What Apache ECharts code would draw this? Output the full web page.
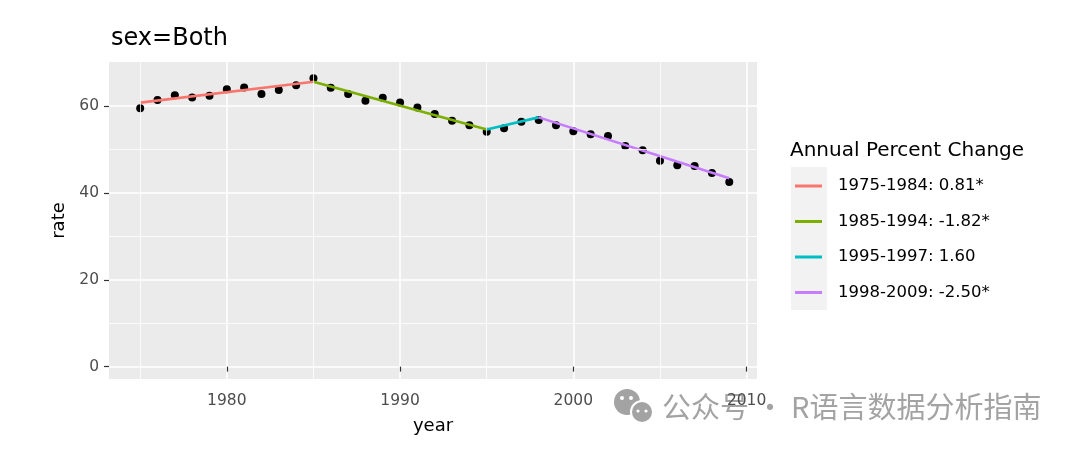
<!DOCTYPE html>
<html><head><meta charset="utf-8">
<script src="https://cdn.jsdelivr.net/npm/echarts@6/dist/echarts.min.js"></script>
<style>html,body{margin:0;padding:0;background:#fff}#c{width:1080px;height:452px}</style>
</head><body><div id="c"></div>
<script>
const years = [1975,1976,1977,1978,1979,1980,1981,1982,1983,1984,1985,1986,1987,1988,1989,1990,1991,1992,1993,1994,1995,1996,1997,1998,1999,2000,2001,2002,2003,2004,2005,2006,2007,2008,2009];
const rate = [59.5,61.4,62.5,62.0,62.4,63.9,64.3,62.8,63.7,64.8,66.4,64.2,62.8,61.2,61.9,60.8,59.7,58.2,56.6,55.6,54.1,54.9,56.4,56.8,55.6,54.2,53.5,53.1,50.8,49.8,47.4,46.4,46.2,44.6,42.5];
const segNames = ['1975-1984: 0.81*','1985-1994: -1.82*','1995-1997: 1.60','1998-2009: -2.50*'];
const segYears = [[1975,1985],[1985,1995],[1995,1998],[1998,2009]];
const segRate = [[60.8,65.6],[65.6,54.6],[54.6,57.4],[57.4,43.4]];
const segColors = ['#F8766D','#7CAE00','#00BFC4','#C77CFF'];
const xTicks = [1980,1990,2000,2010];
const xMinor = [1975,1985,1995,2005];
const yTicks = [0,20,40,60];
const yMinor = [10,30,50];

const FONT = 'DejaVu Sans';
const chart = echarts.init(document.getElementById('c'));
const segSeries = segNames.map((n,i)=>({
  type:'line', name:n, z:4, symbol:'none', silent:true,
  data: segYears[i].map((y,j)=>[y, segRate[i][j]]),
  lineStyle:{color:segColors[i], width:2.6}, itemStyle:{color:segColors[i]}
}));
chart.setOption({
  animation:false,
  backgroundColor:'#fff',
  title:[
    {text:'sex=Both', left:106, top:22, textStyle:{fontFamily:FONT, fontSize:24, fontWeight:'normal', color:'#000'}},
    {text:'Annual Percent Change', left:785, top:136, textStyle:{fontFamily:FONT, fontSize:20, fontWeight:'normal', color:'#000'}}
  ],
  grid:{left:109, right:323, top:62, bottom:73, show:true, backgroundColor:'#EBEBEB', borderWidth:0},
  xAxis:{type:'value', min:1973.2, max:2010.6,
    name:'year', nameLocation:'middle', nameGap:38,
    nameTextStyle:{fontFamily:FONT, fontSize:18, color:'#000'},
    axisLine:{show:false},
    axisTick:{show:true, length:5, customValues:xTicks, lineStyle:{color:'#333', width:1.2}},
    axisLabel:{customValues:xTicks, margin:14, fontFamily:FONT, fontSize:15.5, color:'#4D4D4D', formatter:v=>String(v)},
    splitLine:{show:true, lineStyle:{color:'#fff', width:1.6}}
  },
  yAxis:{type:'value', min:-2.85, max:70.15,
    name:'rate', nameLocation:'middle', nameGap:34, nameRotate:90,
    nameTextStyle:{fontFamily:FONT, fontSize:18, color:'#000'},
    axisLine:{show:false},
    axisTick:{show:true, length:5, customValues:yTicks, lineStyle:{color:'#333', width:1.2}},
    axisLabel:{customValues:yTicks, margin:10, fontFamily:FONT, fontSize:15.5, color:'#4D4D4D', formatter:v=>String(v)},
    splitLine:{show:true, lineStyle:{color:'#fff', width:1.6}}
  },
  legend:{orient:'vertical', left:795, top:176, padding:0, itemGap:15.5,
    icon:'rect', itemWidth:27, itemHeight:3,
    data:segNames,
    textStyle:{fontFamily:FONT, fontSize:16.5, color:'#000', lineHeight:20, padding:[0,0,0,11]}
  },
  graphic:[
    {type:'rect', left:791, top:167, shape:{width:36, height:143}, style:{fill:'#F2F2F2'}, z:-1, silent:true},
    {type:'group', z:100, children:[
      {type:'circle', shape:{cx:627, cy:402, r:13}, style:{fill:'#a3a3a3'}},
      {type:'circle', shape:{cx:642, cy:412, r:11}, style:{fill:'#a3a3a3', stroke:'#fff', lineWidth:2}},
      {type:'circle', shape:{cx:622, cy:398, r:2}, style:{fill:'#fff'}},
      {type:'circle', shape:{cx:631, cy:398, r:2}, style:{fill:'#fff'}},
      {type:'circle', shape:{cx:638, cy:411, r:1.6}, style:{fill:'#fff'}},
      {type:'circle', shape:{cx:646, cy:411, r:1.6}, style:{fill:'#fff'}},
      {type:'text', left:662, top:392, style:{text:'公众号 · R语言数据分析指南', fontFamily:'Noto Sans CJK SC', fontSize:29, fill:'#a3a3a3'}}
    ]}
  ],
  series:[
    {type:'line', name:'minorgrid', data:[], z:1, silent:true,
      markLine:{silent:true, symbol:['none','none'], label:{show:false}, animation:false,
        lineStyle:{color:'#fff', width:0.8, type:'solid'},
        data: xMinor.map(v=>({xAxis:v})).concat(yMinor.map(v=>({yAxis:v})))}
    },
    {type:'scatter', name:'points', z:3, symbolSize:8, silent:true,
      itemStyle:{color:'#000', opacity:1},
      data: years.map((y,i)=>[y, rate[i]])},
    ...segSeries
  ]
});
</script>
</body></html>
